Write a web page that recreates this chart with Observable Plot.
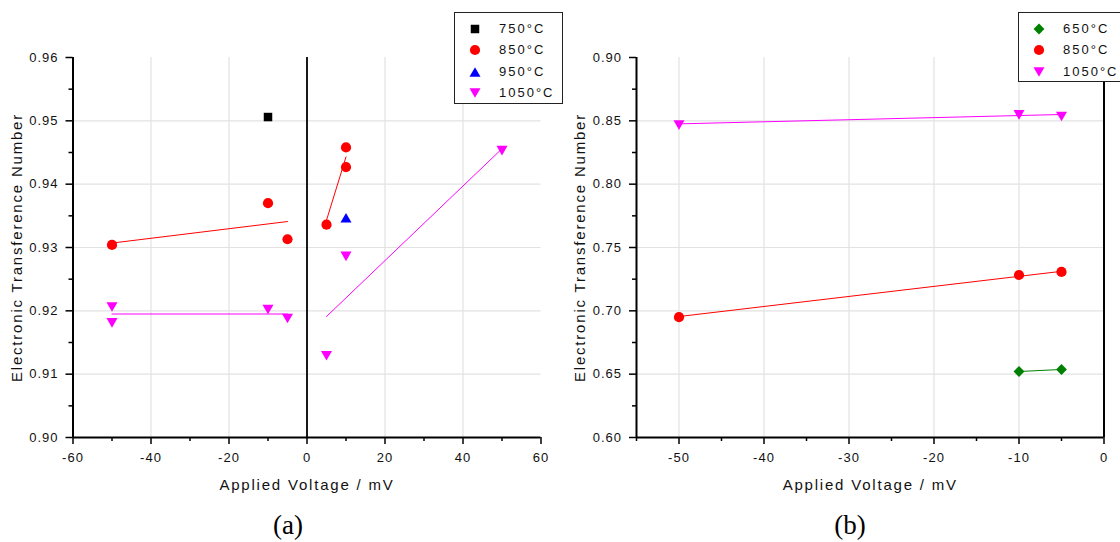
<!DOCTYPE html>
<html><head><meta charset="utf-8">
<script src="https://cdn.jsdelivr.net/npm/d3@7"></script>
<script src="https://cdn.jsdelivr.net/npm/@observablehq/plot@0.6"></script>
<style>
html,body{margin:0;padding:0;background:#fff;overflow:hidden}
#wrap{position:relative;width:1120px;height:542px;overflow:hidden;font-family:"Liberation Sans",Arial,sans-serif;background:#fff}
.panel{position:absolute;top:0;width:560px;height:500px}
.legend{position:absolute;box-sizing:border-box;border:1.3px solid #222;background:#fff;font-size:13px;letter-spacing:2px;color:#111}
.legend .row{position:absolute;left:0;height:20px;line-height:20px;white-space:nowrap}
.legend svg{position:absolute;top:0}
.cap{position:absolute;font-family:"Liberation Serif",serif;font-size:27px;transform:translate(-50%,-50%);color:#000}
</style></head><body><div id="wrap"></div><script>
// ---------- Panel (a) data ----------
const seriesA = ["750°C", "850°C", "950°C", "1050°C"];
const a750V = [-10];
const a750T = [0.9506];
const a850V = [-50, -10, -5, 5, 10, 10];
const a850T = [0.9304, 0.9370, 0.9313, 0.9336, 0.9458, 0.9427];
const a950V = [10];
const a950T = [0.9347];
const a1050V = [-50, -50, -10, -5, 5, 10, 50];
const a1050T = [0.9206, 0.9181, 0.9202, 0.9188, 0.9129, 0.9286, 0.9453];
// fitted lines (end points)
const a850FitNegV = [-50, -5];
const a850FitNegT = [0.9307, 0.9341];
const a850FitPosV = [5, 10];
const a850FitPosT = [0.9343, 0.9443];
const a1050FitNegV = [-50, -5];
const a1050FitNegT = [0.9195, 0.9195];
const a1050FitPosV = [5, 50];
const a1050FitPosT = [0.9191, 0.9456];
// ticks (a)
const aXTicks = [-60, -40, -20, 0, 20, 40, 60];
const aXMinor = [-50, -30, -10, 10, 30, 50];
const aXGrid = [-40, -20, 20, 40];
const aYTicks = [0.90, 0.91, 0.92, 0.93, 0.94, 0.95, 0.96];
const aYMinor = [0.905, 0.915, 0.925, 0.935, 0.945, 0.955];
const aYGrid = [0.91, 0.92, 0.93, 0.94, 0.95];

// ---------- Panel (b) data ----------
const seriesB = ["650°C", "850°C", "1050°C"];
const b650V = [-10, -5];
const b650T = [0.6521, 0.6537];
const b850V = [-50, -10, -5];
const b850T = [0.6950, 0.7283, 0.7307];
const b1050V = [-50, -10, -5];
const b1050T = [0.8466, 0.8547, 0.8534];
const b650FitV = [-10, -5];
const b650FitT = [0.6521, 0.6537];
const b850FitV = [-50, -5];
const b850FitT = [0.6955, 0.7312];
const b1050FitV = [-50, -5];
const b1050FitT = [0.8476, 0.8550];
// ticks (b)
const bXTicks = [-50, -40, -30, -20, -10, 0];
const bXMinor = [-55, -45, -35, -25, -15, -5];
const bXGrid = [-50, -40, -30, -20, -10];
const bYTicks = [0.60, 0.65, 0.70, 0.75, 0.80, 0.85, 0.90];
const bYMinor = [0.625, 0.675, 0.725, 0.775, 0.825, 0.875];
const bYGrid = [0.65, 0.70, 0.75, 0.80, 0.85];

const xTitle = "Applied Voltage / mV";
const yTitle = "Electronic Transference Number";

// ---------- styles ----------
const RED = "#ff0000", MAG = "#ff00ff", BLUE = "#0000ff", BLACK = "#000000", GREEN = "#008000";
const FONT = '"Liberation Sans", Arial, sans-serif';

const triUp = {draw(ctx, size) {
  const s = Math.sqrt(size * 4 / Math.sqrt(3)), h = s * Math.sqrt(3) / 2;
  ctx.moveTo(0, -h / 2); ctx.lineTo(s / 2, h / 2); ctx.lineTo(-s / 2, h / 2); ctx.closePath();
}};
const triDown = {draw(ctx, size) {
  const s = Math.sqrt(size * 4 / Math.sqrt(3)), h = s * Math.sqrt(3) / 2;
  ctx.moveTo(0, h / 2); ctx.lineTo(s / 2, -h / 2); ctx.lineTo(-s / 2, -h / 2); ctx.closePath();
}};
const symSquare = {sym: d3.symbolSquare, r: 4.8};
const symCircle = {sym: d3.symbolCircle, r: 5.1};
const symUp = {sym: triUp, r: 4.1};
const symDown = {sym: triDown, r: 4.1};
const symDiamond = {sym: d3.symbolDiamond2, r: 4.9};

function dots(V, T, s, color) {
  return Plot.dot(V, {x: V, y: T, symbol: s.sym, r: s.r, fill: color, stroke: "none"});
}
function fit(V, T, color) {
  return Plot.line(V, {x: V, y: T, stroke: color, strokeWidth: 1});
}

function makePanel(cfg) {
  const grid = {stroke: "#e2e2e2", strokeOpacity: 1, strokeWidth: 1.2};
  const svg = Plot.plot({
    width: 560, height: 500,
    marginTop: 57, marginBottom: 63, marginLeft: cfg.marginLeft, marginRight: cfg.marginRight,
    x: {domain: cfg.xDomain},
    y: {domain: cfg.yDomain},
    style: {fontFamily: FONT, fontSize: "13px", color: "#000", background: "transparent", letterSpacing: "1px", overflow: "visible"},
    marks: [
      Plot.gridX(cfg.xGrid, grid),
      Plot.gridY(cfg.yGrid, grid),
      ...cfg.marks,
      Plot.ruleX([cfg.xDomain[0]], {stroke: "#000", strokeWidth: 2}),
      Plot.ruleY([cfg.yDomain[0]], {stroke: "#000", strokeWidth: 2}),
      Plot.axisX(cfg.xTicks, {tickSize: 7, tickPadding: 8, tickFormat: d => String(d), label: null, strokeWidth: 1.5, fill: "#111"}),
      Plot.axisX(cfg.xMinor, {tickSize: 4, tickFormat: () => "", label: null, strokeWidth: 1.5}),
      Plot.axisY(cfg.yTicks, {tickSize: 7, tickPadding: 7.5, tickFormat: d3.format(".2f"), label: null, strokeWidth: 1.5, fill: "#111"}),
      Plot.axisY(cfg.yMinor, {tickSize: 4, tickFormat: () => "", label: null, strokeWidth: 1.5}),
      Plot.text([xTitle], {frameAnchor: "bottom", dy: 52, fontSize: 15, fill: "#111", textAnchor: "middle"}),
      Plot.text([yTitle], {frameAnchor: "left", dx: -56, rotate: -90, fontSize: 15, fill: "#111", textAnchor: "middle"})
    ]
  });
  d3.select(svg).selectAll("text").filter(function() {
    return this.textContent === xTitle || this.textContent === yTitle;
  }).style("letter-spacing", "1.8px");
  return svg;
}

const wrap = document.getElementById("wrap");

const svgA = makePanel({
  xDomain: [-60, 60], yDomain: [0.90, 0.96],
  xTicks: aXTicks, xMinor: aXMinor, xGrid: aXGrid,
  yTicks: aYTicks, yMinor: aYMinor, yGrid: aYGrid,
  marginLeft: 72.5, marginRight: 19.5,
  marks: [
    Plot.ruleX([0], {stroke: "#000", strokeWidth: 1.8}),
    fit(a850FitNegV, a850FitNegT, RED),
    fit(a850FitPosV, a850FitPosT, RED),
    fit(a1050FitNegV, a1050FitNegT, MAG),
    fit(a1050FitPosV, a1050FitPosT, MAG),
    dots(a750V, a750T, symSquare, BLACK),
    dots(a850V, a850T, symCircle, RED),
    dots(a950V, a950T, symUp, BLUE),
    dots(a1050V, a1050T, symDown, MAG)
  ]
});
const svgB = makePanel({
  xDomain: [-55, 0], yDomain: [0.60, 0.90],
  xTicks: bXTicks, xMinor: bXMinor, xGrid: bXGrid,
  yTicks: bYTicks, yMinor: bYMinor, yGrid: bYGrid,
  marginLeft: 76, marginRight: 16.5,
  marks: [
    Plot.ruleX([0], {stroke: "#000", strokeWidth: 2}),
    fit(b650FitV, b650FitT, GREEN),
    fit(b850FitV, b850FitT, RED),
    fit(b1050FitV, b1050FitT, MAG),
    dots(b650V, b650T, symDiamond, GREEN),
    dots(b850V, b850T, symCircle, RED),
    dots(b1050V, b1050T, symDown, MAG)
  ]
});

function addPanel(svg, left) {
  const d = document.createElement("div");
  d.className = "panel"; d.style.left = left + "px";
  d.appendChild(svg); wrap.appendChild(d);
}
addPanel(svgA, 0);
addPanel(svgB, 560);

function addLegend(left, top, width, height, names, syms, colors) {
  const box = document.createElement("div");
  box.className = "legend";
  Object.assign(box.style, {left: left + "px", top: top + "px", width: width + "px", height: height + "px"});
  names.forEach((n, i) => {
    const row = document.createElement("div");
    row.className = "row";
    row.style.top = (6.6 + i * 21.3) + "px";
    const s = d3.create("svg").attr("width", 20).attr("height", 20).style("left", "10px");
    s.append("path").attr("transform", "translate(10,10)")
      .attr("d", d3.symbol(syms[i].sym, syms[i].r * syms[i].r * Math.PI)())
      .attr("fill", colors[i]);
    row.appendChild(s.node());
    const t = document.createElement("span");
    t.textContent = n;
    t.style.position = "absolute"; t.style.left = "44px";
    row.appendChild(t);
    box.appendChild(row);
  });
  wrap.appendChild(box);
}
addLegend(454, 11.5, 109, 92, seriesA, [symSquare, symCircle, symUp, symDown], [BLACK, RED, BLUE, MAG]);
addLegend(1018, 11.5, 130, 70, seriesB, [symDiamond, symCircle, symDown], [GREEN, RED, MAG]);

function addCap(text, x, y) {
  const c = document.createElement("div");
  c.className = "cap"; c.textContent = text;
  c.style.left = x + "px"; c.style.top = y + "px";
  wrap.appendChild(c);
}
addCap("(a)", 288, 525);
addCap("(b)", 850, 525);
</script></body></html>
